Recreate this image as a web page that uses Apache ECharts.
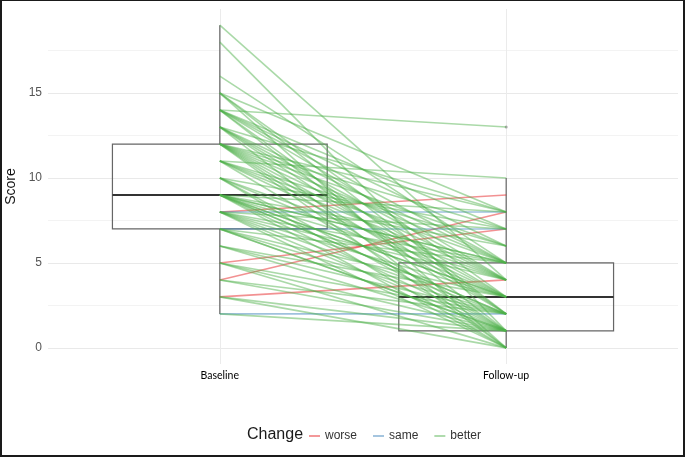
<!DOCTYPE html>
<html>
<head>
<meta charset="utf-8">
<script src="https://cdn.jsdelivr.net/npm/echarts@6/dist/echarts.min.js"></script>
<style>
  html, body { margin: 0; padding: 0; background: #fff; }
  #wrap { position: relative; width: 685px; height: 457px; }
  #chart { width: 685px; height: 457px; }
  #frame { position: absolute; left: 0; top: 0; right: 0; bottom: 0; box-sizing: border-box;
           border: 2px solid #1a1a1a; border-top-width: 1px; pointer-events: none; }
</style>
</head>
<body>
<div id="wrap">
  <div id="chart"></div>
  <div id="frame"></div>
</div>
<script>
// paired scores, one entry per subject
const categories = ['Baseline', 'Follow-up']
const baseline = [
  8, 4, 5, 3,
  8, 7, 2,
  14, 11,
  19, 18, 16, 15, 15, 15, 15,
  14, 14, 14, 14, 14, 14,
  13, 13, 13, 13, 13, 13,
  12, 12, 12, 12, 12, 12, 12, 12, 12,
  11, 11, 11, 11, 11,
  10, 10, 10, 10, 10,
  9, 9, 9, 9, 9, 9, 9, 9, 9, 9, 9,
  8, 8, 8, 8, 8, 8, 8,
  7, 7, 7, 7, 7,
  6, 6, 6,
  5, 5, 5,
  4, 4,
  3, 3,
  2,
]
const followUp = [
  9, 8, 7, 4,
  8, 7, 2,
  13, 10,
  4, 1, 5, 3, 8, 0, 2,
  7, 6, 1, 4, 2, 5,
  8, 3, 0, 5, 2, 4,
  8, 6, 3, 1, 5, 2, 0, 4, 7,
  5, 3, 1, 4, 6,
  7, 4, 1, 3, 0,
  8, 5, 2, 1, 3, 0, 4, 3, 6, 2, 5,
  7, 3, 1, 2, 5, 0, 4,
  3, 1, 2, 5, 1,
  2, 1, 3,
  1, 0, 2,
  1, 2,
  1, 0,
  1,
]
const changeLevels = ['worse', 'same', 'better']
const changeColors = { worse: '#e41a1c', same: '#377eb8', better: '#4daf4a' }
const yLabelTicks = [0, 5, 10, 15]
const yGridTicks = [0, 2.5, 5, 7.5, 10, 12.5, 15, 17.5]

// R type 7 quantile
function quantile(sorted, p) {
  const h = (sorted.length - 1) * p
  const lo = Math.floor(h)
  const hi = Math.ceil(h)
  return sorted[lo] + (h - lo) * (sorted[hi] - sorted[lo])
}

function boxStats(values) {
  const s = [...values].sort((a, b) => a - b)
  const q1 = quantile(s, 0.25)
  const med = quantile(s, 0.5)
  const q3 = quantile(s, 0.75)
  const iqr = q3 - q1
  const inside = s.filter(v => v >= q1 - 1.5 * iqr && v <= q3 + 1.5 * iqr)
  const outliers = s.filter(v => v < q1 - 1.5 * iqr || v > q3 + 1.5 * iqr)
  return { low: inside[0], q1, med, q3, high: inside[inside.length - 1], outliers }
}

const stats = [boxStats(baseline), boxStats(followUp)]
const boxData = stats.map((st, i) => [i + 1, st.low, st.q1, st.med, st.q3, st.high])
const outlierData = []
stats.forEach((st, i) => st.outliers.forEach(v => outlierData.push([i + 1, v])))

function changeOf(i) {
  if (followUp[i] > baseline[i])
    return 'worse'
  if (followUp[i] < baseline[i])
    return 'better'
  return 'same'
}

function rgba(hex, a) {
  const n = parseInt(hex.slice(1), 16)
  return `rgba(${n >> 16},${(n >> 8) & 255},${n & 255},${a})`
}

const pairSeries = baseline.map((b, i) => {
  const ch = changeOf(i)
  return {
    name: ch,
    type: 'line',
    data: [[1, b], [2, followUp[i]]],
    symbol: 'none',
    silent: true,
    z: 3,
    lineStyle: { color: changeColors[ch], width: 1.6, opacity: 0.48 },
    itemStyle: { color: changeColors[ch] },
  }
})

const chart = echarts.init(document.getElementById('chart'))

chart.setOption({
  animation: false,
  title: {
    text: 'Change',
    left: 242,
    top: 422,
    textStyle: { fontFamily: 'Liberation Sans', fontSize: 16, fontWeight: 'normal', color: '#1a1a1a' },
  },
  legend: {
    left: 304,
    top: 425,
    icon: 'rect',
    itemWidth: 11,
    itemHeight: 2,
    itemGap: 16,
    textStyle: { fontFamily: 'Liberation Sans', fontSize: 12, color: '#333' },
    data: changeLevels.map(name => ({
      name,
      itemStyle: { color: rgba(changeColors[name], 0.45) },
    })),
  },
  grid: { left: 48, right: 7, top: 9, bottom: 93, containLabel: false, outerBoundsMode: 'none' },
  xAxis: {
    type: 'value',
    min: 0.4,
    max: 2.6,
    axisLine: { show: false },
    axisTick: { show: false, customValues: [1, 2] },
    splitLine: { show: true, lineStyle: { color: '#ebebeb', width: 1 } },
    axisLabel: {
      customValues: [1, 2],
      formatter: v => categories[Math.round(v) - 1],
      margin: 6,
      fontFamily: 'Lato',
      fontSize: 10.5,
      color: '#000',
    },
  },
  yAxis: {
    type: 'value',
    min: -0.95,
    max: 19.95,
    name: 'Score',
    nameLocation: 'middle',
    nameGap: 23,
    nameTextStyle: { fontFamily: 'Liberation Sans', fontSize: 14, color: '#111' },
    axisLine: { show: false },
    axisTick: { show: false, customValues: yGridTicks },
    splitLine: { show: true, lineStyle: { color: ['#e9e9e9', '#f3f3f3'], width: 1 } },
    axisLabel: {
      customValues: yLabelTicks,
      margin: 6,
      fontFamily: 'Liberation Sans',
      fontSize: 12,
      color: '#555',
    },
  },
  series: [
    {
      name: 'box',
      type: 'custom',
      z: 2,
      silent: true,
      data: boxData,
      renderItem(params, api) {
        const x = api.value(0)
        const halfW = api.size([0.75, 0])[0] / 2
        const [cx, yLow] = api.coord([x, api.value(1)])
        const yQ1 = api.coord([x, api.value(2)])[1]
        const yMed = api.coord([x, api.value(3)])[1]
        const yQ3 = api.coord([x, api.value(4)])[1]
        const yHigh = api.coord([x, api.value(5)])[1]
        const edge = { stroke: '#666', lineWidth: 1.2, fill: 'none' }
        return {
          type: 'group',
          children: [
            { type: 'line', shape: { x1: cx, y1: yQ3, x2: cx, y2: yHigh }, style: edge },
            { type: 'line', shape: { x1: cx, y1: yQ1, x2: cx, y2: yLow }, style: edge },
            { type: 'rect', shape: { x: cx - halfW, y: yQ3, width: 2 * halfW, height: yQ1 - yQ3 }, style: edge },
            { type: 'line', shape: { x1: cx - halfW, y1: yMed, x2: cx + halfW, y2: yMed }, style: { stroke: '#333', lineWidth: 2 } },
          ],
        }
      },
    },
    {
      name: 'outlier',
      type: 'scatter',
      z: 2,
      silent: true,
      data: outlierData,
      symbolSize: 3,
      itemStyle: { color: '#999' },
    },
    ...pairSeries,
  ],
})
</script>
</body>
</html>
